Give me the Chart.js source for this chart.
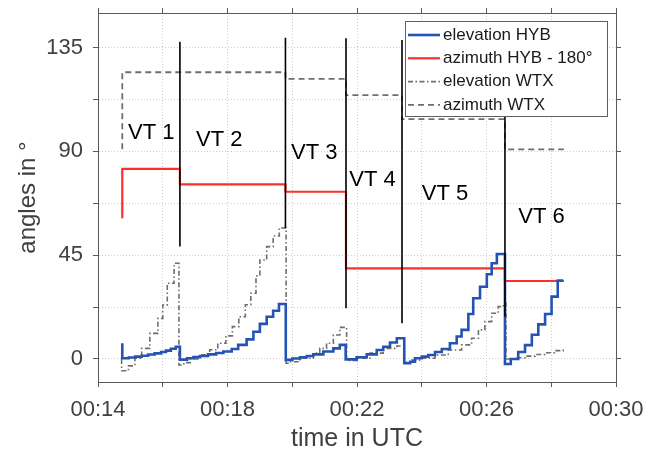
<!DOCTYPE html>
<html>
<head>
<meta charset="utf-8">
<script src="https://cdn.jsdelivr.net/npm/chart.js@4.4.1/dist/chart.umd.min.js"></script>
<style>
  html, body { margin: 0; padding: 0; background: #fff; }
  #wrap { width: 656px; height: 454px; }
</style>
</head>
<body>
<div id="wrap"><canvas id="chart" width="656" height="454"></canvas></div>
<script>
const FONT = '"Liberation Sans", Arial, Helvetica, sans-serif';

// --- axes (x in minutes after 00:00 UTC) ---
const xTickValues = [14, 16, 18, 20, 22, 24, 26, 28, 30];
const xLabelValues = [14, 18, 22, 26, 30];
const xLabelTexts = ['00:14', '00:18', '00:22', '00:26', '00:30'];
const yTickValues = [0, 22.5, 45, 67.5, 90, 112.5, 135];
const yLabelValues = [0, 45, 90, 135];
const yLabelTexts = ['0', '45', '90', '135'];

// --- series (stairs: each value holds from its time until the next time) ---
const hybElevTime = [14.75, 14.75, 14.95, 15.15, 15.35, 15.55, 15.75, 15.95, 16.1, 16.25, 16.4,
  16.53, 16.75, 16.95, 17.15, 17.4, 17.65, 17.87, 18.13, 18.33, 18.59, 18.8, 19.0, 19.21, 19.41, 19.59,
  19.8, 20.0, 20.24, 20.45, 20.65, 20.96, 21.27, 21.47,
  21.65, 21.99, 22.3, 22.61, 22.81, 23.02, 23.23,
  23.46, 23.64, 23.79, 24.0, 24.2, 24.41, 24.62, 24.87, 25.08, 25.23, 25.44, 25.59, 25.8, 26.01, 26.16, 26.32,
  26.57, 26.75, 26.98, 27.19, 27.4, 27.6, 27.81, 28.01, 28.2, 28.37];
const hybElevValue = [6.8, 0.3, 0.6, 1.0, 1.4, 1.9, 2.4, 3.0, 3.6, 4.4, 5.3,
  -0.3, 0.3, 0.8, 1.3, 2.0, 2.6, 3.2, 4.3, 6.1, 8.5, 11.8, 15.2, 18.3, 20.9, 23.8,
  -0.4, 0.2, 0.7, 1.3, 2.0, 3.2, 4.6, 6.1,
  -0.2, 0.7, 2.0, 3.9, 5.3, 7.1, 9.0,
  -1.9, -1.2, 0.3, 1.0, 1.7, 3.0, 4.3, 6.8, 9.7, 12.6, 19.5, 26.3, 31.3, 36.7, 41.5, 45.5,
  -2.2, 0.0, 3.0, 6.0, 10.5, 15.0, 19.5, 27.0, 34.0, 34.0];

const hybAzTime = [14.75, 14.75, 16.53, 19.79, 21.66, 26.57, 28.39];
const hybAzValue = [61, 82.4, 75.7, 72.5, 39.3, 33.8, 33.8];

const wtxElevTime = [14.73, 14.73, 14.94, 15.14, 15.35, 15.6, 15.85, 16.0, 16.14, 16.35,
  16.5, 16.65, 16.85, 17.15, 17.45, 17.7, 17.95, 18.15, 18.35, 18.55, 18.72, 18.88, 19.0, 19.21, 19.41, 19.6,
  19.81, 19.95, 20.24, 20.65, 20.85, 21.06, 21.27, 21.47,
  21.68, 21.99, 22.4, 22.81, 23.23,
  23.46, 23.7, 24.0, 24.41, 24.82, 25.23, 25.54, 25.75, 25.95, 26.16, 26.36, 26.52,
  26.6, 26.9, 27.2, 27.5, 27.8, 28.1, 28.37];
const wtxElevValue = [0, -5.1, -3.0, 0.3, 4.6, 11.1, 17.6, 23.4, 32.8, 41.5,
  -2.6, -1.6, 0.0, 1.8, 4.0, 6.8, 10.0, 14.0, 18.3, 23.5, 28.5, 36.0, 42.9, 48.7, 53.3, 56.8,
  -1.9, -1.2, 0.3, 2.5, 4.6, 6.8, 10.4, 13.7,
  -0.7, 0.3, 2.5, 4.6, 5.6,
  -1.5, -0.5, 0.3, 1.7, 3.9, 6.1, 9.0, 12.6, 16.2, 19.8, 22.7, 24.1,
  0.0, 0.5, 1.2, 1.9, 2.7, 3.6, 4.6];

const wtxAzTime = [14.75, 14.75, 19.79, 21.66, 23.39, 26.57, 28.39];
const wtxAzValue = [90.9, 124.3, 121.4, 114.4, 104, 90.9, 90.9];

// --- VT boundaries and their names ---
const vtLineX = [16.53, 19.79, 21.66, 23.39, 26.57];
const vtLineBottom = [48.7, 56.8, 22, 15.5, 18.3];
const vtLineTop = [137.5, 139.3, 139, 138.3, 138.3];
const vtNames = ['VT 1', 'VT 2', 'VT 3', 'VT 4', 'VT 5', 'VT 6'];
const vtNameX = [14.93, 17.03, 19.96, 21.76, 24.0, 26.98];
const vtNameY = [98, 95, 89.4, 77.6, 71.5, 61.4];

const legendTexts = ['elevation HYB', 'azimuth HYB - 180°', 'elevation WTX', 'azimuth WTX'];
const legendDatasets = [1, 2, 3, 4];

function toPoints(times, values) {
    return times.map((t, i) => ({ x: t, y: values[i] }));
}

function vtLinePoints() {
    const pts = [];
    vtLineX.forEach((t, i) => {
        pts.push({ x: t, y: vtLineBottom[i] }, { x: t, y: vtLineTop[i] }, { x: t, y: null });
    });
    return pts;
}

// VT names drawn in data coordinates
const vtNamePlugin = {
    id: 'vtNames',
    afterDatasetsDraw(chart) {
        const { ctx, scales } = chart;
        ctx.save();
        ctx.font = '22px ' + FONT;
        ctx.fillStyle = '#000';
        ctx.textAlign = 'left';
        ctx.textBaseline = 'middle';
        vtNames.forEach((t, i) => {
            ctx.fillText(t, scales.x.getPixelForValue(vtNameX[i]), scales.y.getPixelForValue(vtNameY[i]));
        });
        ctx.restore();
    }
};

// boxed legend in the upper right corner of the plot area
const boxLegendPlugin = {
    id: 'boxLegend',
    afterDraw(chart) {
        const ctx = chart.ctx;
        const area = chart.chartArea;
        const w = 202, h = 95;
        const left = Math.floor(area.right - 9 - w), top = Math.floor(area.top + 8);
        ctx.save();
        ctx.fillStyle = '#fff';
        ctx.fillRect(left, top, w, h);
        ctx.strokeStyle = '#5f5f5f';
        ctx.lineWidth = 1;
        ctx.strokeRect(left + 0.5, top + 0.5, w, h);
        ctx.font = '17px ' + FONT;
        ctx.textBaseline = 'middle';
        ctx.textAlign = 'left';
        legendTexts.forEach((text, i) => {
            const ds = chart.data.datasets[legendDatasets[i]];
            const y = top + 14 + i * 23.3;
            ctx.beginPath();
            ctx.setLineDash(ds.borderDash || []);
            ctx.strokeStyle = ds.borderColor;
            ctx.lineWidth = ds.borderWidth;
            ctx.moveTo(left + 3, y);
            ctx.lineTo(left + 35, y);
            ctx.stroke();
            ctx.setLineDash([]);
            ctx.fillStyle = '#1a1a1a';
            ctx.fillText(text, left + 38, y);
        });
        ctx.restore();
    }
};

const axisColor = '#595959';
const gridColor = '#cfcfcf';

new Chart(document.getElementById('chart'), {
    type: 'line',
    data: {
        datasets: [
            { label: 'VT', data: vtLinePoints(), borderColor: '#000', borderWidth: 1.6, spanGaps: false },
            { label: legendTexts[0], data: toPoints(hybElevTime, hybElevValue), borderColor: '#2453b4', borderWidth: 2.6, stepped: true },
            { label: legendTexts[1], data: toPoints(hybAzTime, hybAzValue), borderColor: '#f8302e', borderWidth: 2.2, stepped: true },
            { label: legendTexts[2], data: toPoints(wtxElevTime, wtxElevValue), borderColor: '#6e6e6e', borderWidth: 1.6, borderDash: [5, 2.5, 1.5, 2.5], stepped: true },
            { label: legendTexts[3], data: toPoints(wtxAzTime, wtxAzValue), borderColor: '#6e6e6e', borderWidth: 1.8, borderDash: [6, 4], stepped: true }
        ]
    },
    options: {
        responsive: false,
        animation: false,
        devicePixelRatio: 1,
        elements: { point: { radius: 0 }, line: { tension: 0, fill: false } },
        layout: { padding: { left: 0, right: 35, top: 8, bottom: 0 } },
        plugins: { legend: { display: false }, tooltip: { enabled: false } },
        scales: {
            x: {
                type: 'linear', position: 'bottom', min: 14, max: 30,
                afterBuildTicks: (s) => { s.ticks = xTickValues.map(v => ({ value: v })); },
                afterFit: (s) => { s.height = 72; s.paddingLeft = 0; s.paddingRight = 0; },
                ticks: {
                    autoSkip: false, maxRotation: 0, padding: 10, color: '#404040',
                    font: { family: FONT, size: 22 },
                    callback: (v) => { const i = xLabelValues.indexOf(v); return i >= 0 ? xLabelTexts[i] : ''; }
                },
                grid: { color: gridColor, lineWidth: 1, tickLength: 5, tickColor: axisColor, tickWidth: 1 },
                border: { display: true, color: axisColor, width: 1, dash: [1, 2] },
                title: { display: true, text: 'time in UTC', color: '#404040', font: { family: FONT, size: 25 }, padding: { top: 0, bottom: 0 } }
            },
            x2: {
                type: 'linear', position: 'top', min: 14, max: 30,
                afterBuildTicks: (s) => { s.ticks = xTickValues.map(v => ({ value: v })); },
                afterFit: (s) => { s.height = 5; s.paddingLeft = 0; s.paddingRight = 0; },
                ticks: { display: false },
                grid: { drawOnChartArea: false, tickLength: 5, tickColor: axisColor },
                border: { display: true, color: axisColor, width: 1 }
            },
            y: {
                type: 'linear', position: 'left', min: -10, max: 150,
                afterBuildTicks: (s) => { s.ticks = yTickValues.map(v => ({ value: v })); },
                afterFit: (s) => { s.width = 98; s.paddingTop = 0; s.paddingBottom = 0; },
                ticks: {
                    autoSkip: false, padding: 10, color: '#404040',
                    font: { family: FONT, size: 22 },
                    callback: (v) => { const i = yLabelValues.indexOf(v); return i >= 0 ? yLabelTexts[i] : ''; }
                },
                grid: { color: gridColor, lineWidth: 1, tickLength: 5, tickColor: axisColor, tickWidth: 1 },
                border: { display: true, color: axisColor, width: 1, dash: [1, 2] },
                title: { display: true, text: 'angles in °', color: '#404040', font: { family: FONT, size: 24 }, padding: { top: 13.6, bottom: 0 } }
            },
            y2: {
                type: 'linear', position: 'right', min: -10, max: 150,
                afterBuildTicks: (s) => { s.ticks = yTickValues.map(v => ({ value: v })); },
                afterFit: (s) => { s.width = 5; s.paddingTop = 0; s.paddingBottom = 0; },
                ticks: { display: false },
                grid: { drawOnChartArea: false, tickLength: 5, tickColor: axisColor },
                border: { display: true, color: axisColor, width: 1 }
            }
        }
    },
    plugins: [vtNamePlugin, boxLegendPlugin]
});
</script>
</body>
</html>
